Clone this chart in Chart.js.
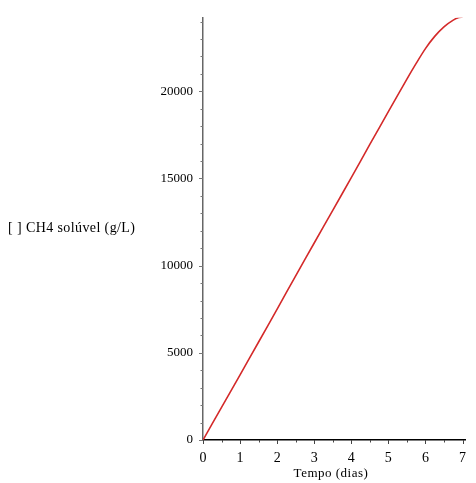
<!DOCTYPE html>
<html>
<head>
<meta charset="utf-8">
<script src="https://cdn.jsdelivr.net/npm/chart.js@4/dist/chart.umd.min.js"></script>
<style>
html,body{margin:0;padding:0;background:#fff;}
#wrap{width:476px;height:483px;position:relative;}
</style>
</head>
<body>
<div id="wrap"><canvas id="c" width="476" height="483"></canvas></div>
<script>
const days = [0, 0.5, 1, 1.5, 2, 2.5, 3, 3.5, 4, 4.5, 5, 5.5, 5.75, 6, 6.25, 6.5, 6.75, 6.9, 7];
const ch4 = [0, 1870, 3740, 5620, 7510, 9420, 11300, 13170, 15050, 16950, 18830, 20700, 21600, 22450, 23150, 23700, 24080, 24230, 24250];
const xTicks = [0, 1, 2, 3, 4, 5, 6, 7];
const yTicks = [0, 5000, 10000, 15000, 20000];
const yTitle = "[ ] CH4 solúvel (g/L)";
const xTitle = "Tempo (dias)";

const serif = "'Liberation Serif', 'DejaVu Serif', serif";

const extras = {
  id: 'extras',
  afterDraw(chart) {
    const ctx = chart.ctx;
    const xs = chart.scales.x, ys = chart.scales.y;
    const ax = xs.left, ay = ys.bottom;
    ctx.save();
    ctx.strokeStyle = '#777';
    ctx.lineWidth = 1;
    for (let v = 0; v <= 24000; v += 1000) {
      const py = Math.round(ys.getPixelForValue(v)) + 0.5;
      const len = (v % 5000 === 0) ? 4 : 2.5;
      ctx.beginPath(); ctx.moveTo(ax - len, py); ctx.lineTo(ax, py); ctx.stroke();
    }
    ctx.strokeStyle = '#444';
    for (let v = 0; v <= 7; v += 0.5) {
      const px = Math.round(xs.getPixelForValue(v)) + 0.5;
      const len = (v % 1 === 0) ? 4 : 2.5;
      ctx.beginPath(); ctx.moveTo(px, ay); ctx.lineTo(px, ay + len); ctx.stroke();
    }
    ctx.fillStyle = '#000';
    ctx.font = "14px " + serif;
    ctx.textBaseline = 'middle';
    try { ctx.letterSpacing = '0.4px'; } catch (e) {}
    ctx.textAlign = 'left';
    ctx.fillText(yTitle, 8, 228);
    ctx.font = "13px " + serif;
    try { ctx.letterSpacing = '0.5px'; } catch (e) {}
    ctx.textAlign = 'center';
    ctx.fillText(xTitle, 331, 474);
    ctx.restore();
  }
};

new Chart(document.getElementById('c'), {
  type: 'line',
  data: {
    datasets: [{
      data: days.map((d, i) => ({x: d, y: ch4[i]})),
      borderColor: '#d42a2a',
      borderWidth: 1.6,
      pointRadius: 0,
      tension: 0.3,
      fill: false
    }]
  },
  options: {
    responsive: false,
    animation: false,
    events: [],
    layout: {padding: {top: 15, right: 0, left: 0, bottom: 0}},
    plugins: {legend: {display: false}, tooltip: {enabled: false}},
    scales: {
      x: {
        type: 'linear',
        min: 0, max: 7.09,
        afterBuildTicks(s) { s.ticks = xTicks.map(v => ({value: v})); },
        afterFit(s) { s.height = 43; },
        grid: {display: false, drawOnChartArea: false, drawTicks: false},
        border: {display: true, color: '#000', width: 1.5},
        ticks: {
          font: {family: serif, size: 14},
          color: '#000',
          padding: 10,
          maxRotation: 0,
          autoSkip: false,
          callback: v => String(v)
        }
      },
      y: {
        min: 0, max: 24216,
        afterBuildTicks(s) { s.ticks = yTicks.map(v => ({value: v})); },
        afterFit(s) { s.width = 203; },
        grid: {display: false, drawOnChartArea: false, drawTicks: false},
        border: {display: true, color: '#666', width: 1.5},
        ticks: {
          font: {family: serif, size: 13},
          color: '#000',
          padding: 10,
          autoSkip: false,
          callback: v => String(v)
        }
      }
    }
  },
  plugins: [extras]
});
</script>
</body>
</html>
